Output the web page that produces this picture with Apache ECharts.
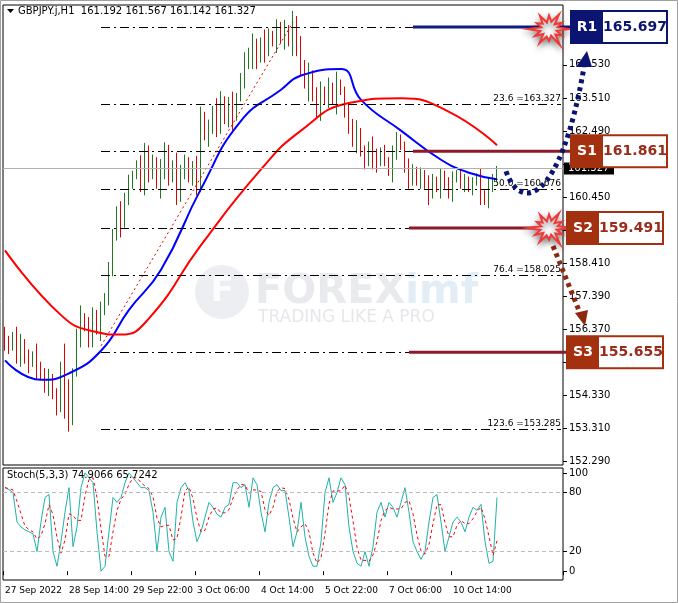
<!DOCTYPE html>
<html><head><meta charset="utf-8">
<script src="https://cdn.jsdelivr.net/npm/echarts@6/dist/echarts.min.js"></script>
<style>html,body{margin:0;padding:0;background:#fff}#c{width:678px;height:603px}</style>
</head><body><div id="c"></div>
<script>
// ---- data ----
const closes = [156.0,155.8,156.2,155.6,155.9,155.5,155.3,155.6,155.2,155.0,
154.6,154.9,154.3,154.0,155.2,154.5,153.6,155.0,
156.3,156.7,156.5,156.1,156.8,156.4,156.9,
157.4,158.2,159.3,160.0,159.6,160.5,160.9,161.1,
161.5,160.9,161.8,161.2,161.6,160.8,161.3,161.9,161.0,161.5,160.6,161.2,161.6,161.0,161.4,160.9,
163.0,162.3,162.6,163.1,162.8,163.4,162.9,163.3,163.0,163.5,164.2,
164.6,164.9,165.1,164.7,165.3,165.0,165.5,165.2,165.7,165.4,165.6,165.3,165.8,165.1,
164.6,163.9,164.2,163.6,163.2,163.7,163.5,163.9,163.4,164.0,163.7,163.1,162.7,162.2,162.5,
161.8,161.6,162.0,161.7,161.5,161.9,161.6,161.2,161.8,162.3,162.0,161.4,161.0,161.3,
160.9,161.2,160.8,160.6,161.0,160.7,161.1,160.9,160.6,161.0,161.2,160.8,161.0,160.7,160.9,161.1,160.5,160.4,160.8,161.0,161.327];
const wicks = "3213423142231329421523324132241321343214321432124313254235214253142132425341523423141232413243121321232121421322311212132321";
const blueMA = [[0,155.4],[9,154.8],[16,155.0],[24,155.7],[31,156.96],[39,158.2],[49,160.7],[59,162.8],[69,163.76],[74,164.2],[84,164.4],[89,163.45],[99,162.5],[109,161.6],[116,161.2],[123,161.0]];
const redMA = [[0,158.8],[14,156.8],[22,156.3],[29,156.2],[36,156.7],[49,158.96],[64,161.3],[74,162.5],[86,163.35],[99,163.5],[111,163.08],[123,162.05]];
const stochK = [85,83,80,50,45,42,40,38,20,50,75,78,20,5,30,60,85,25,45,85,100,95,90,40,0,5,40,75,70,75,90,100,95,90,85,85,82,60,20,55,65,20,10,70,85,90,82,50,30,40,55,70,65,58,55,65,68,90,90,85,88,65,95,88,60,40,70,85,88,82,82,55,25,40,70,35,15,5,5,30,80,95,70,80,95,88,45,20,8,5,20,5,25,60,70,55,70,65,55,70,85,60,30,20,12,20,50,75,78,50,20,35,50,55,50,40,55,65,62,68,30,8,10,74.9];
const fibLevels = [[0,165.697],[23.6,163.327],[38.2,161.861],[50.0,160.676],[61.8,159.491],[76.4,158.025],[100,155.655],[123.6,153.285]];
const fibShown = [23.6,50.0,76.4,123.6];
const priceTicks = [164.530,163.510,162.490,161.470,160.450,159.430,158.410,157.390,156.370,155.350,154.330,153.310,152.290];
const stochTicks = [100,80,20,0];
const dateLabels = ["27 Sep 2022","28 Sep 14:00","29 Sep 22:00","3 Oct 06:00","4 Oct 14:00","5 Oct 22:00","7 Oct 06:00","10 Oct 14:00"];
const levels = [{name:"R1",value:165.697,dark:"#0b1470",line:"#101c80"},{name:"S1",value:161.861,dark:"#a3300f",line:"#8b1a2a"},{name:"S2",value:159.491,dark:"#a3300f",line:"#8b1a2a"},{name:"S3",value:155.655,dark:"#a3300f",line:"#8b1a2a"}];
const lastPrice = 161.327;

// ---- build ----
const NCAT = 140;
const cats = [];
for (let i=0;i<NCAT;i++) cats.push(i%16===0 && i/16<dateLabels.length ? dateLabels[i/16] : '');
const ohlc = closes.map((c,i)=>{
  const o = i===0 ? c+0.2 : closes[i-1];
  const w = +wicks[i]*0.1;
  return [o,c,Math.min(o,c)-w,Math.max(o,c)+w*0.8];
});
const stochD = stochK.map((v,i)=>{const a=stochK.slice(Math.max(0,i-2),i+1);return +(a.reduce((s,x)=>s+x,0)/a.length).toFixed(2);});
const font = "DejaVu Sans";
const fibLines = fibLevels.map(([p,v])=>[
  {coord:[24,v],label:{show:fibShown.includes(p),position:'insideEndTop',formatter:p.toFixed(1)+' ='+v.toFixed(3),color:'#000',fontSize:9,fontFamily:font,distance:[0,1]}},
  {coord:[139,v]}]);

const chart = echarts.init(document.getElementById('c'),null,{renderer:'canvas'});
chart.setOption({
  animation:false,
  backgroundColor:'#fff',
  grid:[{left:3,top:5,width:560,height:460,show:true,borderColor:'#000',borderWidth:1},
        {left:3,top:468,width:560,height:112,show:true,borderColor:'#000',borderWidth:1}],
  xAxis:[{type:'category',data:cats,gridIndex:0,boundaryGap:true,axisLine:{show:false},axisTick:{show:false},axisLabel:{show:false},splitLine:{show:false}},
         {type:'category',data:cats,gridIndex:1,boundaryGap:true,axisLine:{show:false},
          axisTick:{show:true,interval:(i,v)=>v!=='',length:4,lineStyle:{color:'#000'}},
          axisLabel:{interval:(i,v)=>v!=='',align:'left',margin:6,fontSize:9,fontFamily:font,color:'#000'},splitLine:{show:false}}],
  yAxis:[{type:'value',gridIndex:0,position:'right',min:152.17,max:166.38,scale:true,
          axisLine:{show:false},axisTick:{show:true,length:4,customValues:priceTicks,lineStyle:{color:'#000'}},
          axisLabel:{customValues:priceTicks,formatter:v=>v.toFixed(3),fontSize:10,fontFamily:font,color:'#000',margin:6},splitLine:{show:false}},
         {type:'value',gridIndex:1,position:'right',min:-9,max:105,
          axisLine:{show:false},axisTick:{show:true,length:4,customValues:stochTicks,lineStyle:{color:'#000'}},
          axisLabel:{customValues:stochTicks,fontSize:10,fontFamily:font,color:'#000',margin:6},splitLine:{show:false}}],
  series:[
    {type:'candlestick',xAxisIndex:0,yAxisIndex:0,data:ohlc,barWidth:1,
     itemStyle:{color:'#1f7a1f',color0:'#e00000',borderColor:'#1f7a1f',borderColor0:'#e00000',borderWidth:1},
     markLine:{silent:true,symbol:'none',animation:false,data:[
       ...fibLines.map(l=>[Object.assign({lineStyle:{color:'#000',type:[9,4,2,4],width:1}},l[0]),l[1]]),
       [{coord:[24,155.85],lineStyle:{color:'#e00000',type:[2,3],width:1},label:{show:false}},{coord:[72,165.85]}],
       [{yAxis:lastPrice,x:3,lineStyle:{color:'#b0b0b0',type:'solid',width:1},label:{show:false}},{yAxis:lastPrice,x:563}]
     ]}},
    {type:'line',xAxisIndex:0,yAxisIndex:0,data:blueMA,smooth:0.5,symbol:'none',lineStyle:{color:'#0000ff',width:2},z:3},
    {type:'line',xAxisIndex:0,yAxisIndex:0,data:redMA,smooth:0.5,symbol:'none',lineStyle:{color:'#ff0000',width:2},z:3},
    {type:'line',xAxisIndex:1,yAxisIndex:1,data:stochK,symbol:'none',lineStyle:{color:'#20b2aa',width:1},
     markLine:{silent:true,symbol:'none',label:{show:false},lineStyle:{color:'#bbb',type:[4,3],width:1},data:[{yAxis:80},{yAxis:20}]}},
    {type:'line',xAxisIndex:1,yAxisIndex:1,data:stochD,symbol:'none',lineStyle:{color:'#ff0000',width:1,type:[3,3]}}
  ]
});

// ---- annotations ----
const px = (i,v)=>chart.convertToPixel({gridIndex:0},[i,v]);
const g = [];
g.push({type:'polygon',shape:{points:[[7,9],[14,9],[10.5,13]]},style:{fill:'#000'},z:10});
g.push({type:'text',left:18,top:6,style:{text:'GBPJPY.j,H1  161.192 161.567 161.142 161.327',font:'10px '+font,fill:'#000'},z:10});
g.push({type:'text',left:7,top:470,style:{text:'Stoch(5,3,3) 74.9066 65.7242',font:'10px '+font,fill:'#000'},z:10});
// watermark
g.push({type:'circle',shape:{cx:222,cy:292,r:27},style:{fill:'rgba(150,160,175,0.18)'},z:1});
g.push({type:'text',x:222,y:292,style:{text:'F',font:'bold 34px '+font,fill:'rgba(255,255,255,0.8)',align:'center',verticalAlign:'middle'},z:1});
g.push({type:'text',x:255,y:273,style:{rich:{a:{font:'bold 40px '+font,fill:'rgba(150,160,175,0.22)'},b:{font:'bold 40px '+font,fill:'rgba(140,185,220,0.25)'}},text:'{a|FOREX}{b|imf}'},z:1});
g.push({type:'text',x:258,y:309,style:{text:'TRADING LIKE A PRO',font:'17px '+font,fill:'rgba(150,160,175,0.25)'},z:1});
// price label
const lp = px(0,lastPrice);
g.push({type:'rect',shape:{x:564,y:lp[1]-6,width:50,height:12},style:{fill:'#000'},z:8});
g.push({type:'text',x:568,y:lp[1],style:{text:lastPrice.toFixed(3),font:'10px '+font,fill:'#fff',verticalAlign:'middle'},z:9});
// level lines & boxes
levels.forEach((L,k)=>{
  const p = px(k<2?101.5:100.7,L.value);
  const bx = k<2 ? 571 : 567;
  g.push({type:'line',shape:{x1:p[0],y1:p[1],x2:bx,y2:p[1]},style:{stroke:L.line,lineWidth:3},z:12});
  g.push({type:'rect',shape:{x:bx,y:p[1]-16,width:96,height:32},style:{fill:'#fff',stroke:L.dark,lineWidth:2},z:20});
  g.push({type:'rect',shape:{x:bx,y:p[1]-16,width:32,height:32},style:{fill:L.dark},z:21});
  g.push({type:'text',x:bx+16,y:p[1],style:{text:L.name,font:'bold 14px '+font,fill:'#fff',align:'center',verticalAlign:'middle'},z:22});
  g.push({type:'text',x:bx+64,y:p[1],style:{text:L.value.toFixed(3),font:'bold 14px '+font,fill:L.dark==='#0b1470'?'#0b1470':'#9a2a1a',align:'center',verticalAlign:'middle'},z:22});
});
function burst(cx,cy){const pts=[];const rs=[20,8,15,9,22,8,14,9,19,8,16,9,21,8,14,9,18,8,16,9,20,8,15,9];for(let i=0;i<24;i++){const a=i*Math.PI/12,r=rs[i];pts.push([cx+r*Math.cos(a),cy+r*0.85*Math.sin(a)]);}
  return {type:'polygon',shape:{points:pts},style:{fill:'#fff',stroke:'#f03a3a',lineWidth:2,shadowBlur:6,shadowColor:'rgba(0,0,0,0.4)',shadowOffsetY:3},z:19};}
const r1 = px(0,165.697), s2 = px(0,159.491), s1 = px(0,161.861);
g.push(burst(549,r1[1]+2));
g.push(burst(549,s2[1]));
g.push({type:'bezierCurve',shape:{x1:506,y1:s1[1]+20,cpx1:520,cpy1:s1[1]+60,cpx2:560,cpy2:s1[1]+55,x2:584,y2:r1[1]+40},style:{stroke:'#0b1470',lineWidth:5,lineDash:[4,4],fill:null},z:15});
g.push({type:'polygon',shape:{points:[[576,r1[1]+40],[592,r1[1]+40],[587,r1[1]+24]]},style:{fill:'#0b1470'},z:15});
g.push({type:'line',shape:{x1:553,y1:s2[1]+18,x2:580,y2:s2[1]+85},style:{stroke:'#8b2a10',lineWidth:5,lineDash:[4,4]},z:15});
g.push({type:'polygon',shape:{points:[[575,s2[1]+85],[588,s2[1]+82],[585,s2[1]+98]]},style:{fill:'#8b2a10'},z:15});
g.push({type:'rect',shape:{x:0.5,y:0.5,width:677,height:602},style:{fill:null,stroke:'#a0a0a0',lineWidth:1},z:30});
chart.setOption({graphic:g});
</script></body></html>
